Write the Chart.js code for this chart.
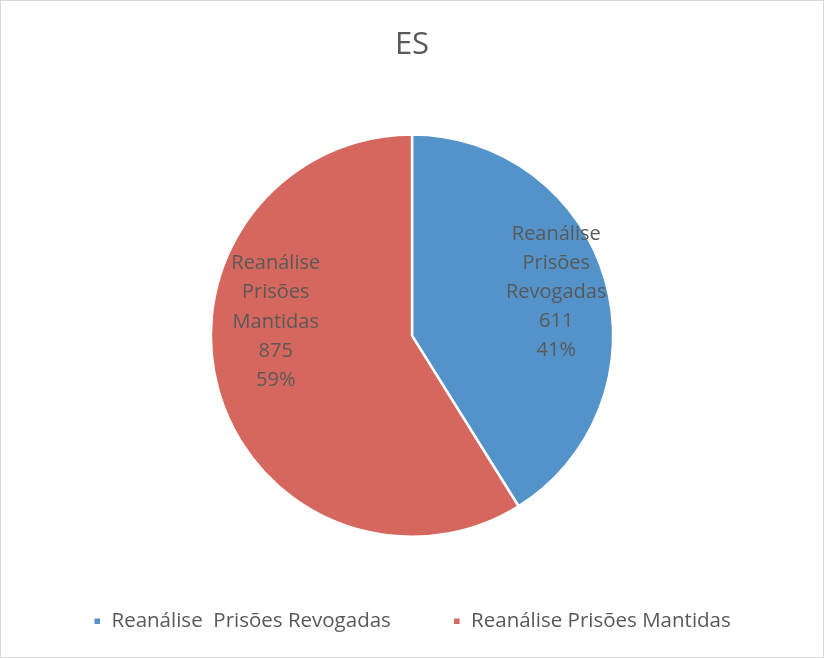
<!DOCTYPE html>
<html>
<head>
<meta charset="utf-8">
<script src="https://cdn.jsdelivr.net/npm/chart.js@4"></script>
<style>
html,body{margin:0;padding:0;background:#fff;}
#wrap{position:relative;width:822px;height:656px;border:1px solid #d9d9d9;}
</style>
</head>
<body>
<div id="wrap"><canvas id="c" width="822" height="656"></canvas></div>
<script>
const title = "ES";
const categories = ["Reanálise  Prisões Revogadas", "Reanálise Prisões Mantidas"];
const values = [611, 875];
const colors = ["#5393c9", "#d6675e"];

const FONT = "'Open Sans', 'Liberation Sans', sans-serif";
const total = values.reduce((a, b) => a + b, 0);

const labelPlugin = {
  id: 'sliceLabels',
  afterDatasetsDraw(chart, args, opts) {
    const ctx = chart.ctx;
    const meta = chart.getDatasetMeta(0);
    ctx.save();
    ctx.fillStyle = '#595959';
    ctx.font = '20px ' + FONT;
    ctx.textAlign = 'center';
    ctx.textBaseline = 'middle';
    meta.data.forEach((arc, i) => {
      const mid = (arc.startAngle + arc.endAngle) / 2;
      const r = arc.outerRadius * opts.radiusFrac;
      const off = opts.offsets[i] || [0, 0];
      const cx = arc.x + Math.cos(mid) * r + off[0];
      const cy = arc.y + Math.sin(mid) * r + off[1];
      const words = categories[i].split(/\s+/);
      const pct = Math.round(values[i] / total * 100) + '%';
      const lines = words.concat([String(values[i]), pct]);
      const lh = 29.2;
      const start = cy - (lines.length - 1) * lh / 2;
      lines.forEach((t, k) => ctx.fillText(t, cx, start + k * lh));
    });
    ctx.restore();
  }
};

// adjust legend box height and vertical text offset
const legendTweak = {
  id: 'legendTweak',
  afterInit(chart, args, opts) {
    const lg = chart.legend;
    if (!lg || lg._tweaked) return;
    lg._tweaked = true;
    const origFit = lg.fit;
    lg.fit = function () {
      origFit.call(this);
      this.height = opts.height;
    };
    const origDraw = lg.draw;
    lg.draw = function () {
      const ctx = this.ctx;
      ctx.save();
      ctx.translate(0, opts.dy);
      origDraw.call(this);
      ctx.restore();
    };
  }
};

new Chart(document.getElementById('c'), {
  type: 'pie',
  data: {
    labels: categories,
    datasets: [{
      data: values,
      backgroundColor: colors,
      borderColor: '#ffffff',
      borderWidth: 2.5,
      hoverOffset: 0
    }]
  },
  options: {
    responsive: false,
    animation: false,
    events: [],
    layout: { padding: 0 },
    plugins: {
      title: {
        display: true,
        text: title,
        color: '#595959',
        font: { family: FONT, size: 31, weight: 'normal' },
        padding: { top: 26, bottom: 69 }
      },
      legend: {
        position: 'bottom',
        labels: {
          color: '#595959',
          font: { family: FONT, size: 20.5 },
          boxWidth: 8,
          boxHeight: 8,
          padding: 62
        }
      },
      legendTweak: { height: 119, dy: 11 },
      tooltip: { enabled: false },
      sliceLabels: { radiusFrac: 0.746, offsets: [[0, -2], [8, -55]] }
    }
  },
  plugins: [labelPlugin, legendTweak]
});
</script>
</body>
</html>
